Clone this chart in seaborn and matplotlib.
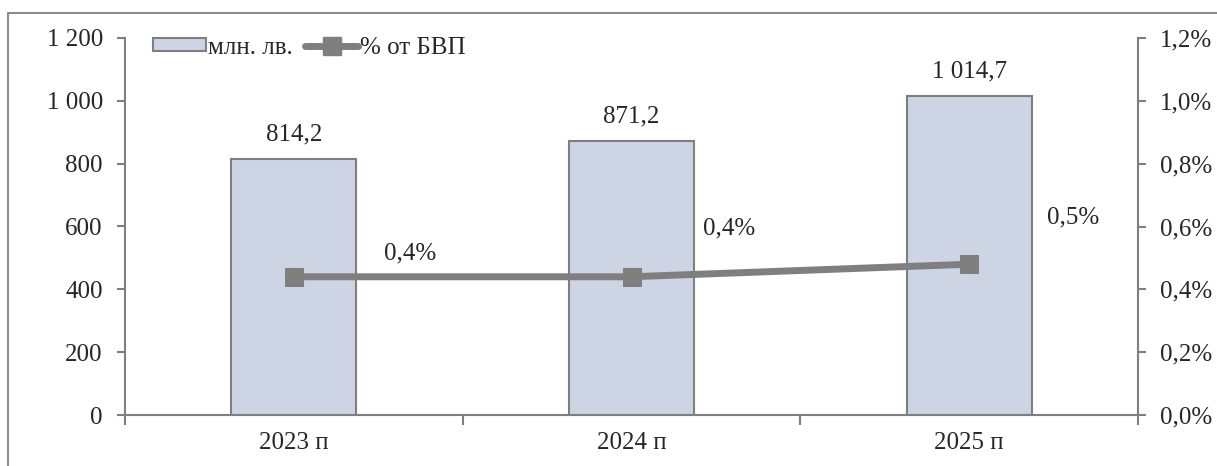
import matplotlib
matplotlib.use("Agg")
import matplotlib.pyplot as plt
import matplotlib.patches as mpatches
from matplotlib.lines import Line2D
import seaborn as sns
import pandas as pd

# data
years = ["2023 п", "2024 п", "2025 п"]
mln_lv = [814.2, 871.2, 1014.7]
pct_gdp = [0.44, 0.44, 0.48]
bar_labels = ["814,2", "871,2", "1 014,7"]
pct_labels = ["0,4%", "0,4%", "0,5%"]
left_ticks = [0, 200, 400, 600, 800, 1000, 1200]
left_tick_labels = ["0", "200", "400", "600", "800", "1 000", "1 200"]
right_ticks = [0.0, 0.2, 0.4, 0.6, 0.8, 1.0, 1.2]
right_tick_labels = ["0,0%", "0,2%", "0,4%", "0,6%", "0,8%", "1,0%", "1,2%"]

sns.set_style("white")
plt.rcParams["font.family"] = ["Liberation Serif", "DejaVu Serif"]
plt.rcParams["font.size"] = 18

GREY = "#7f7f7f"
BAR_FILL = "#cdd5e4"

df = pd.DataFrame({"year": years, "value": mln_lv, "pct": pct_gdp})

fig = plt.figure(figsize=(12.17, 4.66), dpi=100)
# outer chart frame (Excel-like)
fig.patches.append(mpatches.Rectangle((8 / 1217, -0.1), 1.2, 0.1 + (466 - 13) / 466,
                                      transform=fig.transFigure, fill=False,
                                      edgecolor="#8c8c8c", linewidth=1.5))
ax = fig.add_axes([125 / 1217, 51 / 466, (1138 - 125) / 1217, (415 - 38) / 466])

sns.barplot(data=df, x="year", y="value", ax=ax, color=BAR_FILL, width=0.37,
            edgecolor=GREY, linewidth=1.5, saturation=1)
ax.set_xlim(-0.5, 2.5)
ax.set_ylim(0, 1200)
ax.set_yticks(left_ticks)
ax.set_yticklabels(left_tick_labels)
ax.set_xlabel("")
ax.set_ylabel("")

# category boundaries carry the ticks, labels sit at centres
ax.set_xticks([-0.5, 0.5, 1.5, 2.5])
ax.set_xticklabels([])
ax.set_xticks([0, 1, 2], minor=True)
ax.set_xticklabels(years, minor=True)
ax.tick_params(axis="x", which="major", bottom=True, direction="out", length=7,
               color=GREY, width=1.5)
ax.tick_params(axis="x", which="minor", bottom=True, length=0, pad=12)
ax.tick_params(axis="y", left=True, direction="out", length=6, color=GREY, width=1.5, pad=10)

for s in ["top", "right"]:
    ax.spines[s].set_visible(False)
for s in ["left", "bottom"]:
    ax.spines[s].set_color(GREY)
    ax.spines[s].set_linewidth(1.5)

for i, (v, lab) in enumerate(zip(mln_lv, bar_labels)):
    ax.annotate(lab, (i, v), xytext=(0, 10), textcoords="offset points",
                ha="center", va="bottom")

ax2 = ax.twinx()
sns.lineplot(x=[0, 1, 2], y=pct_gdp, ax=ax2, color=GREY, linewidth=5,
             marker="s", markersize=13, markeredgecolor=GREY)
ax2.set_ylim(0, 1.2)
ax2.set_yticks(right_ticks)
ax2.set_yticklabels(right_tick_labels)
ax2.tick_params(axis="y", right=True, direction="out", length=6, color=GREY, width=1.5, pad=10)
for s in ["top", "left", "bottom"]:
    ax2.spines[s].set_visible(False)
ax2.spines["right"].set_color(GREY)
ax2.spines["right"].set_linewidth(1.5)

pct_offsets = [(84, 17), (70, 35), (75, 34)]
for i, (v, lab) in enumerate(zip(pct_gdp, pct_labels)):
    ax2.annotate(lab, (i, v), xytext=pct_offsets[i], textcoords="offset points",
                 ha="center", va="center")

handles = [mpatches.Patch(facecolor=BAR_FILL, edgecolor=GREY, linewidth=1.5),
           Line2D([0], [0], color=GREY, linewidth=5, marker="s", markersize=13)]
ax2.legend(handles, ["млн. лв.", "% от БВП"], loc="upper left", ncol=2,
           frameon=False, bbox_to_anchor=(0.018, 1.03), handlelength=2.1,
           handleheight=0.4, handletextpad=0.1, columnspacing=0.5, borderaxespad=0)

fig.savefig("out.png", dpi=100)
